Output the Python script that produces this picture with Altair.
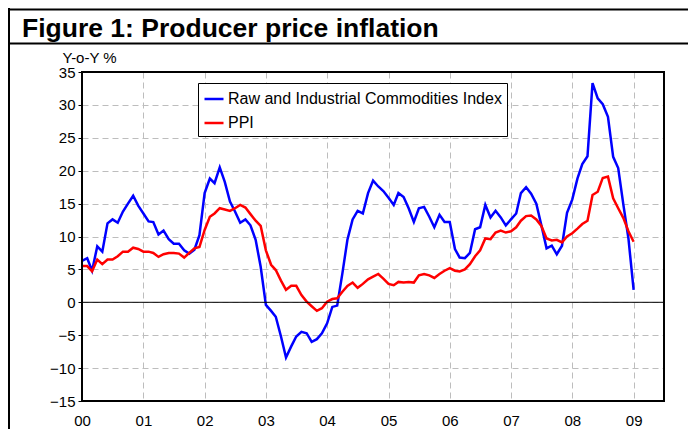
import altair as alt
import pandas as pd

# ---- data (monthly, Jan 2000 .. Jan 2009) ----
series_names = ["Raw and Industrial Commodities Index", "PPI"]
series_colors = ["#0000FF", "#FF0000"]
y_ticks = [-15, -10, -5, 0, 5, 10, 15, 20, 25, 30, 35]

raw_commodities = [
    6.3, 6.7, 4.8, 8.5, 7.7, 12.0, 12.6, 12.1, 13.8, 15.0, 16.2, 14.7,   # 2000
    13.5, 12.3, 12.2, 10.3, 10.9, 9.6, 8.9, 8.9, 7.9, 7.4, 8.0, 10.2,    # 2001
    16.6, 18.8, 18.1, 20.5, 18.3, 15.3, 13.8, 12.1, 12.6, 11.7, 9.5, 5.4,  # 2002
    -0.4, -1.3, -2.2, -5.2, -8.4, -6.7, -5.2, -4.5, -4.7, -6.0, -5.6, -4.7,  # 2003
    -3.2, -0.7, -0.5, 4.4, 9.5, 12.6, 13.9, 13.5, 16.6, 18.5, 17.6, 16.9,  # 2004
    15.9, 14.8, 16.6, 16.0, 14.3, 12.2, 14.3, 14.5, 13.0, 11.4, 13.3, 12.2,  # 2005
    12.2, 8.1, 6.8, 6.7, 7.5, 11.1, 11.4, 14.8, 12.9, 13.9, 12.9, 11.7,   # 2006
    12.6, 13.5, 16.6, 17.5, 16.5, 15.0, 11.7, 8.2, 8.6, 7.3, 8.6, 13.6,   # 2007
    15.6, 18.8, 21.0, 22.2, 33.3, 31.0, 30.1, 28.2, 22.1, 20.4, 14.8, 9.7,  # 2008
    1.9,                                                                   # 2009
]

ppi = [
    5.5, 5.5, 4.7, 6.5, 5.8, 6.5, 6.5, 7.0, 7.7, 7.7, 8.3, 8.1,          # 2000
    7.7, 7.7, 7.5, 6.9, 7.3, 7.5, 7.5, 7.4, 6.8, 7.5, 8.2, 8.4,          # 2001
    11.0, 13.0, 13.5, 14.3, 14.1, 13.9, 14.3, 14.8, 14.4, 13.4, 12.4, 11.6,  # 2002
    7.9, 5.7, 4.9, 3.3, 1.9, 2.5, 2.5, 1.1, 0.1, -0.6, -1.3, -0.9,       # 2003
    0.1, 0.5, 0.6, 1.6, 2.5, 3.0, 2.2, 2.8, 3.5, 3.9, 4.3, 3.6,          # 2004
    2.8, 2.6, 3.1, 3.0, 3.1, 3.0, 4.1, 4.3, 4.1, 3.7, 4.3, 4.8,          # 2005
    5.2, 4.8, 4.7, 5.0, 5.8, 7.0, 7.9, 9.7, 9.6, 10.6, 10.9, 10.6,       # 2006
    10.8, 11.4, 12.4, 13.1, 13.2, 12.6, 11.6, 9.7, 9.4, 9.5, 9.1, 10.0,  # 2007
    10.5, 11.2, 11.9, 12.4, 16.3, 16.8, 18.9, 19.1, 15.8, 14.3, 12.8, 10.8,  # 2008
    9.2,                                                                  # 2009
]

months = pd.date_range("2000-01-01", "2009-01-01", freq="MS").strftime("%Y-%m-%d").tolist()

df = pd.DataFrame({
    "date": months * 2,
    "value": raw_commodities + ppi,
    "series": [series_names[0]] * len(months) + [series_names[1]] * len(months),
})

FONT = "Liberation Sans"
W, H = 582, 329

year_values = [alt.DateTime(year=2000 + i, month=1, date=1, utc=True) for i in range(10)]

x_scale = alt.Scale(type="utc",
                    domain=[alt.DateTime(year=2000, month=1, date=1, utc=True),
                            alt.DateTime(year=2009, month=7, date=1, utc=True)])
x_axis = alt.Axis(values=year_values, format="%y", title=None, ticks=False, domain=False,
                  labelPadding=12, labelFontSize=15, labelOverlap=False, labelFlush=False,
                  grid=True)

y_scale = alt.Scale(domain=[-15, 35], nice=False, zero=False)
y_axis = alt.Axis(values=y_ticks, title="Y-o-Y %", titleAngle=0, titleAlign="left",
                  titleBaseline="middle", titleX=-20, titleY=-15, titleFontSize=15,
                  titleFontWeight="normal", ticks=True, tickSize=4, labelPadding=3,
                  labelFontSize=15, labelOverlap=False, domain=False, grid=True)

lines = alt.Chart(df).mark_line(strokeWidth=2.5).encode(
    x=alt.X("date:T", scale=x_scale, axis=x_axis),
    y=alt.Y("value:Q", scale=y_scale, axis=y_axis),
    color=alt.Color("series:N",
                    scale=alt.Scale(domain=series_names, range=series_colors),
                    legend=alt.Legend(title=None, orient="none", legendX=116, legendY=11,
                                      strokeColor="black", fillColor="white", padding=5,
                                      labelFontSize=16, labelLimit=600, symbolType="stroke",
                                      symbolSize=361, symbolStrokeWidth=2.5, rowPadding=5,
                                      labelOffset=3)),
)

zero_line = alt.Chart(pd.DataFrame({"value": [0]})).mark_rule(color="black", strokeWidth=1).encode(
    y=alt.Y("value:Q", scale=y_scale, axis=y_axis)
)

one = pd.DataFrame({"a": [0]})
plot_frame = alt.Chart(one).mark_rect(fillOpacity=0, stroke="black", strokeWidth=2).encode(
    x=alt.value(0), x2=alt.value(W), y=alt.value(0), y2=alt.value(H))
frame_left = alt.Chart(one).mark_rule(color="black", strokeWidth=2).encode(
    x=alt.value(-73), y=alt.value(-64), y2=alt.value(H + 40))
frame_top = alt.Chart(one).mark_rule(color="black", strokeWidth=2).encode(
    x=alt.value(-74), x2=alt.value(W + 30), y=alt.value(-62.5))
frame_sub = alt.Chart(one).mark_rule(color="black", strokeWidth=2).encode(
    x=alt.value(-74), x2=alt.value(W + 30), y=alt.value(-28.5))
title_text = alt.Chart(pd.DataFrame({"t": ["Figure 1: Producer price inflation"]})).mark_text(
    align="left", baseline="alphabetic", fontSize=26.5, fontWeight="bold", font=FONT, color="black"
).encode(x=alt.value(-60), y=alt.value(-35.5), text="t:N")

chart = alt.layer(lines, zero_line, plot_frame, frame_left, frame_top, frame_sub, title_text).properties(
    width=W, height=H,
    autosize=alt.AutoSizeParams(type="none"),
    padding={"left": 74, "top": 64, "right": 24, "bottom": 28},
    background="white",
).configure_view(
    stroke=None
).configure_axis(
    labelFont=FONT, titleFont=FONT, labelColor="black", titleColor="black",
    tickColor="black", gridColor="#bdbdbd", gridDash=[6, 4], gridWidth=1,
).configure_legend(
    labelFont=FONT, labelColor="black",
)

chart.save("out.html", embed_options={"renderer": "svg", "actions": False})
